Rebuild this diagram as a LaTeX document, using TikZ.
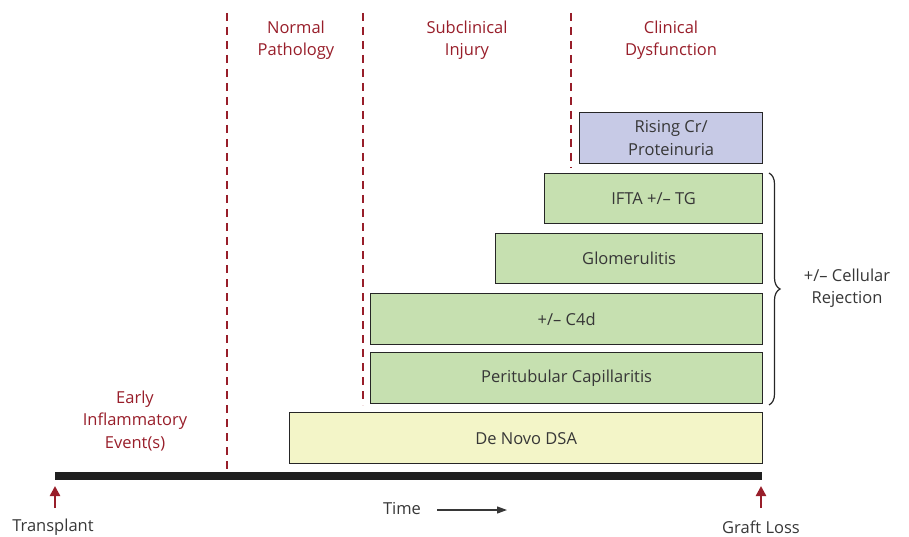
\documentclass[tikz,border=0pt]{standalone}
\usepackage{fontspec}
\setmainfont{Open Sans}
\usetikzlibrary{arrows.meta,decorations.pathreplacing}
\definecolor{phasered}{RGB}{152,30,42}
\definecolor{boxtext}{RGB}{55,55,55}
\definecolor{lavender}{RGB}{199,202,230}
\definecolor{leafgreen}{RGB}{198,224,176}
\definecolor{paleyellow}{RGB}{243,245,200}
\begin{document}
\begin{tikzpicture}[x=1pt,y=-1pt,
  every node/.style={font=\fontsize{16.5}{22.5}\selectfont, text=boxtext, inner sep=0pt, align=center},
  bar/.style={draw=black!85, line width=1.3pt, anchor=north west},
  phase/.style={text=phasered},
  phaseline/.style={draw=phasered, line width=2.8pt, dash pattern=on 8pt off 6pt},
  markarrow/.style={draw=phasered, line width=2.4pt, -{Triangle[length=10pt,width=10pt]}}
]
\useasboundingbox (0,0) rectangle (909,537);

% phase boundaries
\coordinate (d1t) at (227,13);  \coordinate (d1b) at (227,470);
\coordinate (d2t) at (363,13);  \coordinate (d2b) at (363,405);
\coordinate (d3t) at (571,13);  \coordinate (d3b) at (571,168);
\draw[phaseline] (d1t) -- (d1b);
\draw[phaseline] (d2t) -- (d2b);
\draw[phaseline] (d3t) -- (d3b);

% phase headings
\node[phase] (normal) at (296,40) {Normal\\Pathology};
\node[phase] (subclin) at (467,40) {Subclinical\\Injury};
\node[phase] (clin) at (671,40) {Clinical\\Dysfunction};
\node[phase] (early) at (135,421) {Early\\Inflammatory\\Event(s)};

% findings
\node[bar, fill=lavender, minimum width=183pt, minimum height=51pt] (cr) at (579,112) {Rising Cr/\\Proteinuria};
\node[bar, fill=leafgreen, minimum width=218pt, minimum height=50pt] (ifta) at (544,173) {IFTA +/– TG};
\node[bar, fill=leafgreen, minimum width=267pt, minimum height=50pt] (glom) at (495,233) {Glomerulitis};
\node[bar, fill=leafgreen, minimum width=392pt, minimum height=51pt] (c4d) at (370,293) {+/– C4d};
\node[bar, fill=leafgreen, minimum width=392pt, minimum height=51pt] (ptc) at (370,352) {Peritubular Capillaritis};
\node[bar, fill=paleyellow, minimum width=473pt, minimum height=51pt] (dsa) at (289,412) {De Novo DSA};

% cellular rejection brace
\coordinate (bt) at (769,173);
\coordinate (bb) at (769,405);
\draw[line width=1.2pt, draw=black!85, decorate, decoration={brace, amplitude=11pt}] (bt) -- (bb);
\node (rej) at (847,288) {+/– Cellular\\Rejection};

% time axis
\coordinate (ax0) at (55,476);
\coordinate (ax1) at (762,476);
\draw[line width=8pt, draw=black!88] (ax0) -- (ax1);

% endpoints
\node (tx) at (53,527) {Transplant};
\node (gl) at (761,527) {Graft Loss};
\coordinate (txa) at (55,508);
\coordinate (txb) at (55,486);
\coordinate (gla) at (761,508);
\coordinate (glb) at (761,486);
\draw[markarrow] (txa) -- (txb);
\draw[markarrow] (gla) -- (glb);

% time direction
\node (time) at (402,509) {Time};
\coordinate (ta) at (437,510);
\coordinate (tb) at (507,510);
\draw[line width=1.2pt, draw=boxtext, -{Triangle[length=10pt,width=7pt]}] (ta) -- (tb);
\end{tikzpicture}
\end{document}
